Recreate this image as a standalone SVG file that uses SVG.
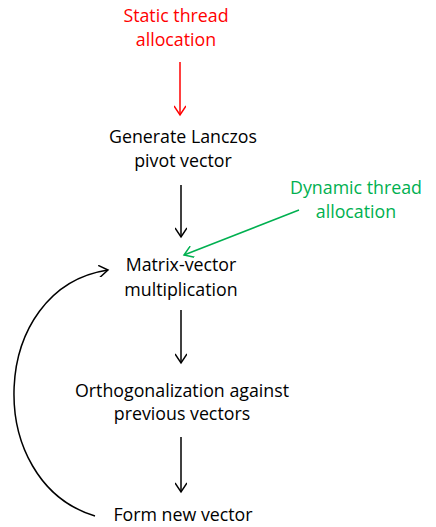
<svg xmlns="http://www.w3.org/2000/svg" width="436" height="527" viewBox="0 0 436 527">
<style>
text{font-family:"Open Sans",Lato,sans-serif;font-size:17.8px;text-anchor:middle}
.k{fill:#000}.r{fill:#ff0000}.g{fill:#00b050}
.c{fill:none;stroke-width:1.5}
</style>
<defs>
<marker id="ak" markerWidth="12" markerHeight="12" refX="10" refY="6" orient="auto" markerUnits="userSpaceOnUse" viewBox="0 0 12 12"><path d="M1,0 L10,6 L1,12" fill="none" stroke="#000" stroke-width="1.5"/></marker>
<marker id="ar" markerWidth="12" markerHeight="12" refX="10" refY="6" orient="auto" markerUnits="userSpaceOnUse" viewBox="0 0 12 12"><path d="M1,0 L10,6 L1,12" fill="none" stroke="#ff0000" stroke-width="1.5"/></marker>
<marker id="ag" markerWidth="12" markerHeight="12" refX="10" refY="6" orient="auto" markerUnits="userSpaceOnUse" viewBox="0 0 12 12"><path d="M1,0 L10,6 L1,12" fill="none" stroke="#00b050" stroke-width="1.5"/></marker>
</defs>
<g id="static"><text class="r" x="176" y="22">Static thread</text><text class="r" x="176" y="46">allocation</text></g>
<g id="generate"><text class="k" x="183" y="143">Generate Lanczos</text><text class="k" x="183" y="167">pivot vector</text></g>
<g id="dynamic"><text class="g" x="356" y="194">Dynamic thread</text><text class="g" x="356" y="218">allocation</text></g>
<g id="matvec"><text class="k" x="181" y="271">Matrix-vector</text><text class="k" x="181" y="296">multiplication</text></g>
<g id="ortho"><text class="k" x="182" y="397">Orthogonalization against</text><text class="k" x="182" y="420">previous vectors</text></g>
<g id="form"><text class="k" x="183" y="521">Form new vector</text></g>
<g id="connectors">
<path class="c" stroke="#ff0000" d="M180,62 L180,115" marker-end="url(#ar)"/>
<path class="c" stroke="#000" d="M181,185 L181,237" marker-end="url(#ak)"/>
<path class="c" stroke="#00b050" d="M299,210 L184,255" marker-end="url(#ag)"/>
<path class="c" stroke="#000" d="M181,310 L181,363" marker-end="url(#ak)"/>
<path class="c" stroke="#000" d="M181,437 L181,492" marker-end="url(#ak)"/>
<path class="c" stroke="#000" d="M95,516 C-18,482 -12,288 108,270" marker-end="url(#ak)"/>
</g>
</svg>
